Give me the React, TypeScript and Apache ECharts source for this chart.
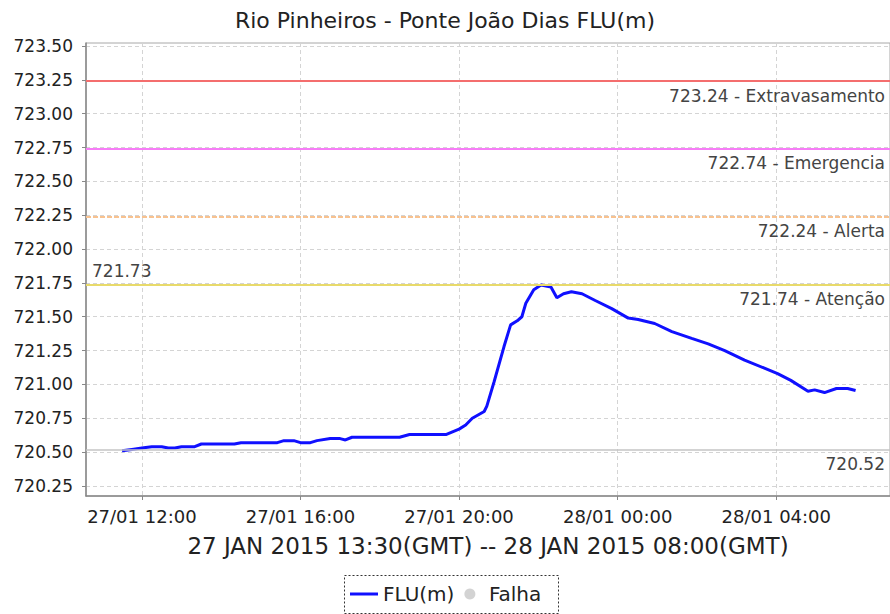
import React, { useEffect, useRef } from 'react';
import * as echarts from 'echarts';

// ---- data ----
const times = [
  '27/01 11:30', '27/01 11:45', '27/01 12:00', '27/01 12:15', '27/01 12:30', '27/01 12:40',
  '27/01 12:50', '27/01 13:00', '27/01 13:20', '27/01 13:30', '27/01 14:20', '27/01 14:30',
  '27/01 15:25', '27/01 15:35', '27/01 15:50', '27/01 16:00', '27/01 16:15', '27/01 16:25',
  '27/01 16:45', '27/01 17:00', '27/01 17:08', '27/01 17:18', '27/01 18:30', '27/01 18:45',
  '27/01 19:40', '27/01 19:50', '27/01 20:00', '27/01 20:10', '27/01 20:20', '27/01 20:38',
  '27/01 20:42', '27/01 20:53', '27/01 21:08', '27/01 21:18', '27/01 21:28', '27/01 21:35',
  '27/01 21:41', '27/01 21:53', '27/01 22:04', '27/01 22:19', '27/01 22:28', '27/01 22:38',
  '27/01 22:50', '27/01 23:06', '27/01 23:26', '27/01 23:51', '28/01 00:16', '28/01 00:31',
  '28/01 00:56', '28/01 01:22', '28/01 01:52', '28/01 02:17', '28/01 02:42', '28/01 03:12',
  '28/01 03:42', '28/01 04:02', '28/01 04:22', '28/01 04:48', '28/01 04:58', '28/01 05:13',
  '28/01 05:31', '28/01 05:48', '28/01 06:00',
];
const levels = [
  720.51, 720.52, 720.53, 720.54, 720.54, 720.53,
  720.53, 720.54, 720.54, 720.56, 720.56, 720.57,
  720.57, 720.585, 720.585, 720.57, 720.57, 720.585,
  720.60, 720.60, 720.59, 720.61, 720.61, 720.63,
  720.63, 720.65, 720.67, 720.70, 720.75, 720.80,
  720.84, 721.02, 721.28, 721.44, 721.47, 721.50,
  721.60, 721.70, 721.735, 721.72, 721.64, 721.67,
  721.685, 721.67, 721.62, 721.56, 721.49, 721.48,
  721.45, 721.39, 721.34, 721.30, 721.25, 721.18,
  721.12, 721.08, 721.03, 720.95, 720.96, 720.94,
  720.97, 720.97, 720.955,
];
const yTicks = [720.25, 720.5, 720.75, 721.0, 721.25, 721.5, 721.75, 722.0, 722.25, 722.5, 722.75, 723.0, 723.25, 723.5];
const xTickHours = [12, 16, 20, 24, 28];
const xTickLabels = ['27/01 12:00', '27/01 16:00', '27/01 20:00', '28/01 00:00', '28/01 04:00'];
const thresholdValues = [723.24, 722.74, 722.24, 721.74];
const thresholdNames = ['Extravasamento', 'Emergencia', 'Alerta', 'Atenção'];
const baseLevel = 720.52;
const peakValue = 721.73;

const titleText = 'Rio Pinheiros - Ponte João Dias FLU(m)';
const periodText = '27 JAN 2015 13:30(GMT) -- 28 JAN 2015 08:00(GMT)';
const seriesName = 'FLU(m)';
const failName = 'Falha';

// ---- styles ----
const FONT = 'DejaVu Sans';
const thresholdColors = ['#f46e6e', '#f77cf7', '#f8c290', '#e8da6a'];
const thresholdDash: any[] = ['solid', 'solid', [5, 2], 'solid'];

function toHours(s: string): number {
  const day = parseInt(s.slice(0, 2), 10);
  const hh = parseInt(s.slice(6, 8), 10);
  const mm = parseInt(s.slice(9, 11), 10);
  return (day - 27) * 24 + hh + mm / 60;
}

export default function App() {
  const ref = useRef<HTMLDivElement>(null);
  useEffect(() => {
    if (!ref.current) return;
    const chart = echarts.init(ref.current, null, { renderer: 'svg' });
    const seriesData = times.map((t, i) => [toHours(t), levels[i]]);
    const labelBase = { color: '#444', fontSize: 17, fontFamily: FONT };
    const markData: any[] = thresholdValues.map((v, i) => ({
      yAxis: v,
      lineStyle: { color: thresholdColors[i], type: thresholdDash[i], width: 2 },
      label: {
        ...labelBase,
        show: true,
        position: 'insideEndBottom',
        formatter: `${v.toFixed(2)} - ${thresholdNames[i]}`,
        distance: [5, 6],
      },
    }));
    markData.push({
      yAxis: baseLevel,
      lineStyle: { color: '#c4c4c4', type: 'solid', width: 1.5 },
      label: {
        ...labelBase,
        show: true,
        position: 'insideEndBottom',
        formatter: baseLevel.toFixed(2),
        distance: [5, 6],
      },
    });
    markData.push({
      yAxis: peakValue,
      lineStyle: { color: 'rgba(0,0,0,0)', width: 0 },
      label: {
        ...labelBase,
        show: true,
        position: 'insideStartTop',
        formatter: peakValue.toFixed(2),
        distance: [6, 6],
      },
    });

    chart.setOption({
      animation: false,
      backgroundColor: '#ffffff',
      textStyle: { fontFamily: FONT },
      title: {
        text: titleText,
        left: 'center',
        top: 4,
        textStyle: { fontSize: 22, fontWeight: 'normal', color: '#222', fontFamily: FONT },
      },
      grid: {
        left: 86,
        top: 43,
        right: -2,
        bottom: 118,
        show: true,
        borderColor: '#a8a8a8',
        borderWidth: 1,
        backgroundColor: '#ffffff',
      },
      legend: {
        left: 350,
        top: 584,
        padding: 0,
        itemGap: 10,
        itemWidth: 28,
        itemHeight: 11,
        textStyle: { fontSize: 20, color: '#222', fontFamily: FONT },
        data: [
          { name: seriesName, icon: 'path://M0,0 L28,0 L28,3 L0,3 Z' },
          { name: failName, icon: 'circle' },
        ],
      },
      graphic: [
        {
          type: 'rect',
          shape: { x: 344.5, y: 575.5, width: 214, height: 38 },
          style: { fill: 'none', stroke: '#333', lineWidth: 1, lineDash: [2, 2] },
        },
      ],
      xAxis: {
        type: 'value',
        min: 10.591,
        max: 30.868,
        name: periodText,
        nameLocation: 'middle',
        nameGap: 38,
        nameTextStyle: { fontSize: 23, color: '#222', fontFamily: FONT },
        axisLine: { show: true, lineStyle: { color: '#888', width: 1.5 } },
        axisTick: { show: true, length: 4, customValues: xTickHours, lineStyle: { color: '#888' } },
        axisLabel: {
          customValues: xTickHours,
          formatter: (v: number) => {
            const idx = xTickHours.indexOf(Math.round(v));
            return idx >= 0 ? xTickLabels[idx] : '';
          },
          fontSize: 18,
          color: '#222',
          margin: 11,
          fontFamily: FONT,
        },
        splitLine: { show: true, lineStyle: { color: '#d4d4d4', type: [4, 3], width: 1 } },
      },
      yAxis: {
        type: 'value',
        min: 720.176,
        max: 723.522,
        axisLine: { show: true, lineStyle: { color: '#888', width: 1.5 } },
        axisTick: { show: true, length: 4, customValues: yTicks, lineStyle: { color: '#888' } },
        axisLabel: {
          customValues: yTicks,
          formatter: (v: number) => v.toFixed(2),
          fontSize: 17,
          color: '#222',
          margin: 13,
          fontFamily: FONT,
        },
        splitLine: { show: true, lineStyle: { color: '#d4d4d4', type: [4, 3], width: 1 } },
      },
      series: [
        {
          name: seriesName,
          type: 'line',
          data: seriesData,
          symbol: 'none',
          color: '#1010ff',
          lineStyle: { color: '#1010ff', width: 3 },
          z: 3,
          markLine: {
            symbol: 'none',
            silent: true,
            animation: false,
            data: markData,
          },
        },
        {
          name: failName,
          type: 'scatter',
          data: [],
          symbol: 'circle',
          color: '#c8c8c8',
          itemStyle: { color: '#c8c8c8' },
        },
      ],
    });
    return () => chart.dispose();
  }, []);
  return (
    <div
      ref={ref}
      style={{ position: 'absolute', left: 0, top: 0, width: 890, height: 614 }}
    />
  );
}
